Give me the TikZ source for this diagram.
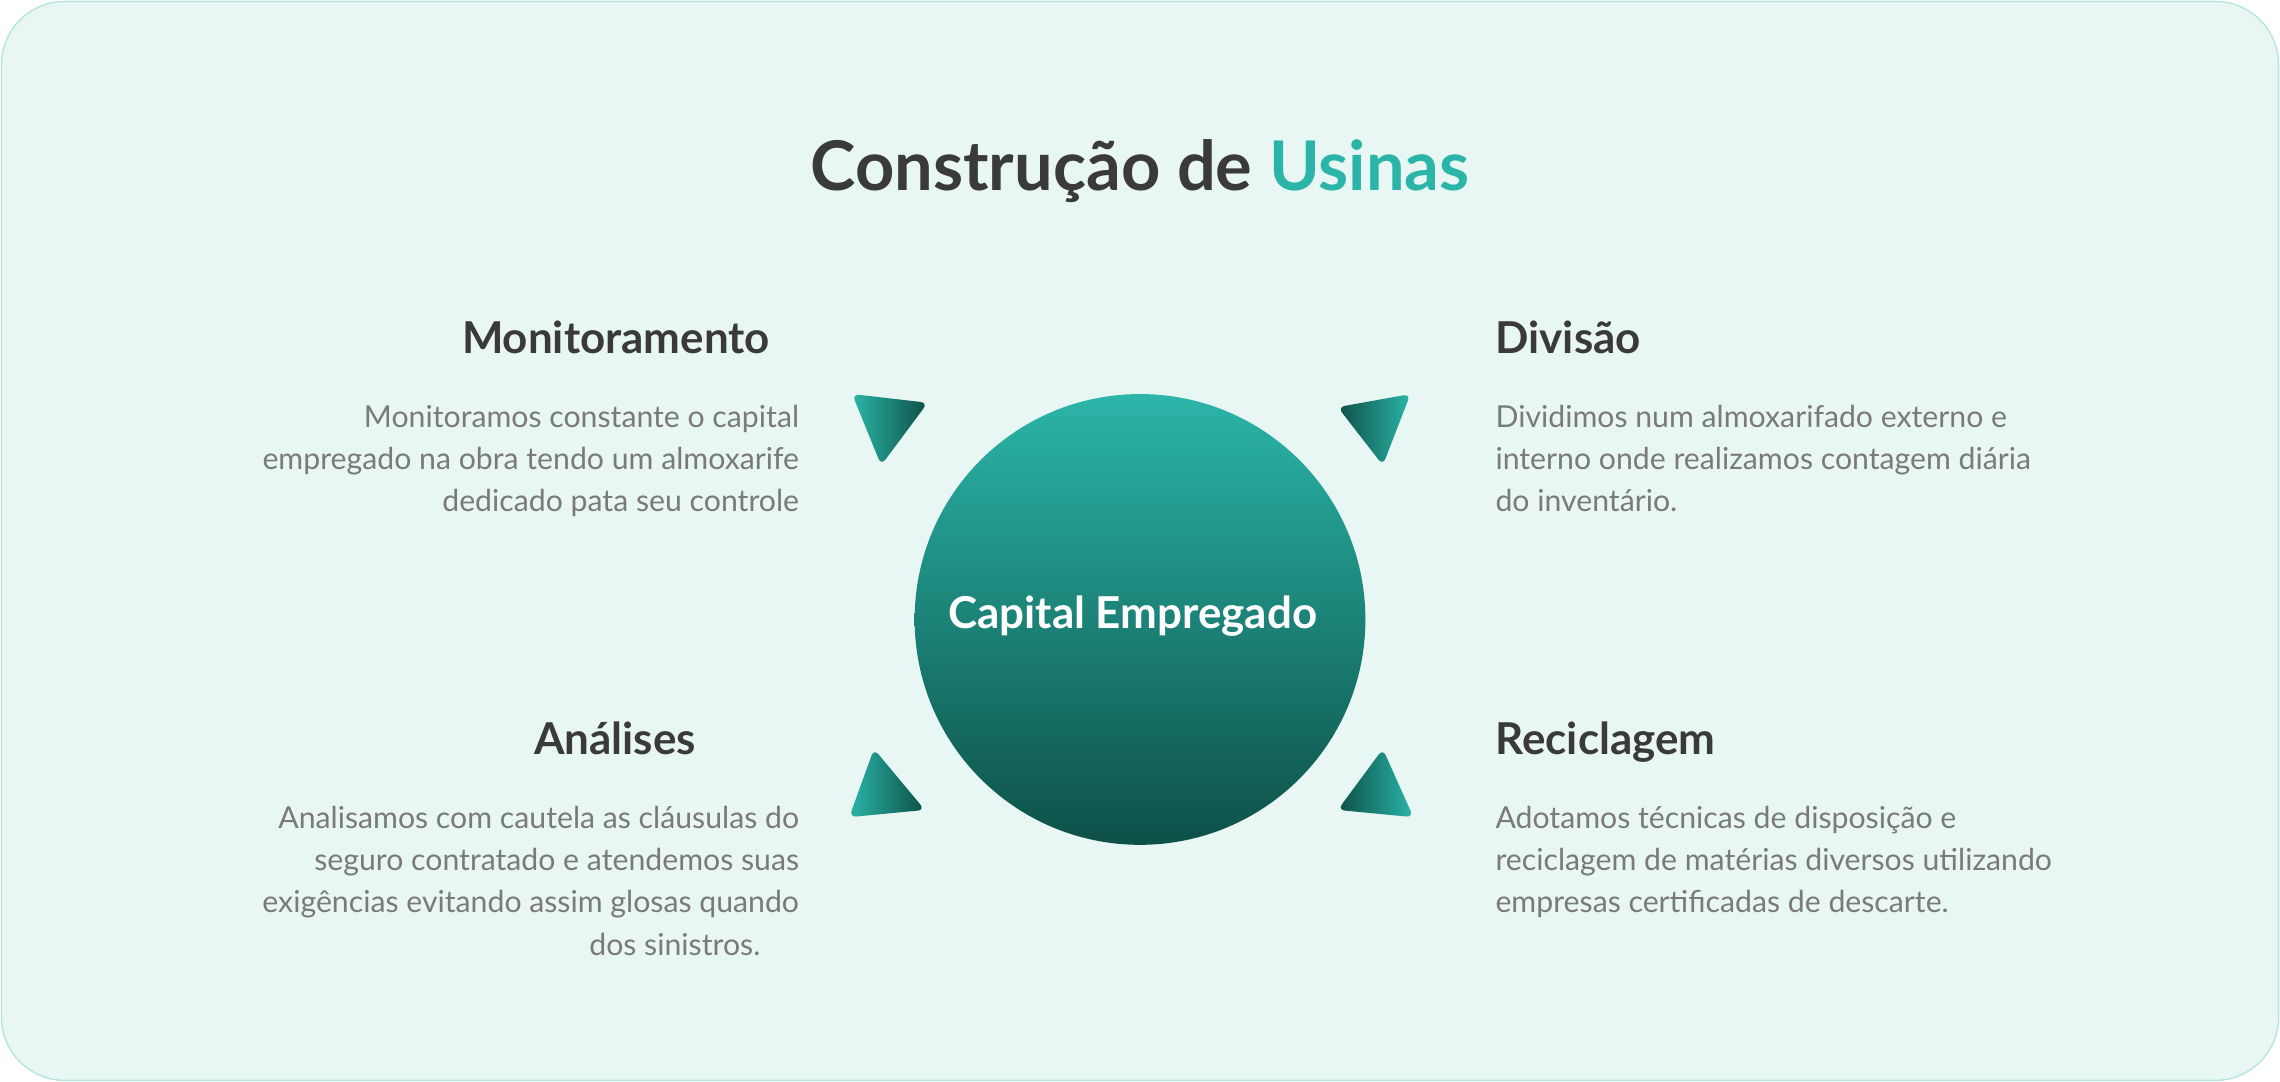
\documentclass[tikz,border=0pt]{standalone}
\usepackage{fontspec}
\setmainfont{Lato}
\usetikzlibrary{positioning}
\definecolor{bgfill}{HTML}{E8F6F4}
\definecolor{bgline}{HTML}{B5E5DD}
\definecolor{tealhi}{HTML}{2BB5A8}
\definecolor{tealdk}{HTML}{0D5048}
\definecolor{headc}{HTML}{3A3A3A}
\definecolor{bodyc}{HTML}{7A7A7A}
\begin{document}
\begin{tikzpicture}[x=0.01454cm, y=-0.01454cm,
		head/.style={font=\fontsize{12.5}{15}\selectfont\bfseries, text=headc, inner sep=0pt},
		body/.style={font=\fontsize{8.6}{12}\selectfont, text=bodyc, inner sep=0pt},
		tri/.style={rounded corners=2pt}]
			% background
			\draw[bgline, fill=bgfill, rounded corners=18pt] (1,1) rectangle (1567,743);
			\useasboundingbox (0,0) rectangle (1568,744);
			% title
			\node[font=\fontsize{19.5}{23}\selectfont\bfseries, text=headc, anchor=base] (title) at (784,131) {Construção de \textcolor{tealhi}{Usinas}};
			% centre circle
			\shade[top color=tealhi, bottom color=tealdk] (784,426) circle (155);
			\node[font=\fontsize{12.5}{15}\selectfont\bfseries, text=white] (capital) at (779,424) {Capital Empregado};
			% triangles
			\shade[tri, left color=tealhi, right color=tealdk] (586,271) -- (638,277) -- (606,320) -- cycle;
			\shade[tri, left color=tealdk, right color=tealhi] (970,271) -- (920,280) -- (951,320) -- cycle;
			\shade[tri, left color=tealhi, right color=tealdk] (601,515) -- (636,557) -- (584,562) -- cycle;
			\shade[tri, left color=tealdk, right color=tealhi] (951,515) -- (972,562) -- (920,557) -- cycle;
			% left blocks
			\node[head, anchor=base east] (monit) at (530,243) {Monitoramento};
			\node[body, anchor=north east, align=right] (monittxt) at (550,278) {Monitoramos constante o capital\\empregado na obra tendo um almoxarife\\dedicado pata seu controle};
			\node[head, anchor=base east] (anal) at (479,519) {Análises};
			\node[body, anchor=north east, align=right] (analtxt) at (550,554) {Analisamos com cautela as cláusulas do\\seguro contratado e atendemos suas\\exigências evitando assim glosas quando\\dos sinistros.\hspace*{11pt}};
			% right blocks
			\node[head, anchor=base west] (divi) at (1028,243) {Divisão};
			\node[body, anchor=north west, align=left] (divitxt) at (1028,278) {Dividimos num almoxarifado externo e\\interno onde realizamos contagem diária\\do inventário.};
			\node[head, anchor=base west] (recic) at (1028,519) {Reciclagem};
			\node[body, anchor=north west, align=left] (recictxt) at (1028,554) {Adotamos técnicas de disposição e\\reciclagem de matérias diversos utilizando\\empresas certificadas de descarte.};
		\end{tikzpicture}
\end{document}
